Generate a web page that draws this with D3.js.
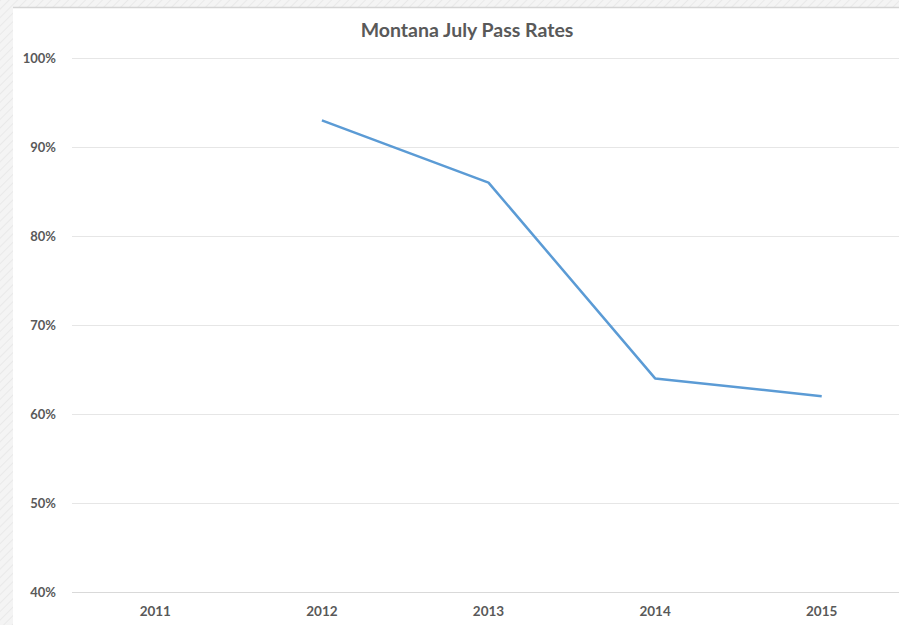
<!DOCTYPE html>
<html>
<head>
<meta charset="utf-8">
<script src="https://cdn.jsdelivr.net/npm/d3@7"></script>
<style>
  html, body { margin: 0; padding: 0; background: #f3f3f3; }
  svg { display: block; }
  text { font-family: Lato, "Open Sans", sans-serif; fill: #595959; }
</style>
</head>
<body>
<svg width="899" height="625"></svg>
<script>
var years = ["2011", "2012", "2013", "2014", "2015"];
var passRates = [null, 0.93, 0.86, 0.64, 0.62];
var yTicks = [0.4, 0.5, 0.6, 0.7, 0.8, 0.9, 1.0];
var title = "Montana July Pass Rates";

var svg = d3.select("svg"),
    W = +svg.attr("width"), H = +svg.attr("height");

// textured page background
var defs = svg.append("defs");
var pat = defs.append("pattern").attr("id", "tex")
    .attr("width", 6).attr("height", 6)
    .attr("patternUnits", "userSpaceOnUse")
    .attr("patternTransform", "rotate(45)");
pat.append("rect").attr("width", 6).attr("height", 6).attr("fill", "#f4f4f4");
pat.append("line").attr("x1", 0).attr("y1", 0).attr("x2", 0).attr("y2", 6)
    .attr("stroke", "#e9e9e9").attr("stroke-width", 2);
svg.append("rect").attr("width", W).attr("height", H).attr("fill", "url(#tex)");

// chart card
svg.append("rect").attr("x", 13).attr("y", 7).attr("width", W - 13).attr("height", H - 7)
    .attr("fill", "#ffffff");
svg.append("line").attr("x1", 13).attr("x2", W).attr("y1", 7.5).attr("y2", 7.5)
    .attr("stroke", "#d4d4d4").attr("stroke-width", 1.5);

var x = d3.scaleBand().domain(years).range([72, 905]);
var y = d3.scaleLinear().domain([0.4, 1.0]).range([592, 58]);

// gridlines
svg.append("g").selectAll("line").data(yTicks).enter().append("line")
    .attr("x1", 72).attr("x2", W)
    .attr("y1", function(d) { return Math.round(y(d)) + 0.5; })
    .attr("y2", function(d) { return Math.round(y(d)) + 0.5; })
    .attr("stroke", function(d) { return d === 0.4 ? "#d9d9d9" : "#e6e6e6"; })
    .attr("stroke-width", 1);

// y labels
var pct = d3.format(".0%");
svg.append("g").selectAll("text").data(yTicks).enter().append("text")
    .attr("x", 56).attr("y", function(d) { return y(d); })
    .attr("dy", "0.35em")
    .attr("text-anchor", "end")
    .style("font-size", "13px").style("font-weight", "bold")
    .text(function(d) { return pct(d); });

// x labels
svg.append("g").selectAll("text").data(years).enter().append("text")
    .attr("x", function(d) { return x(d) + x.bandwidth() / 2; })
    .attr("y", 616)
    .attr("text-anchor", "middle")
    .style("font-size", "13.5px").style("font-weight", "bold")
    .text(function(d) { return d; });

// title
svg.append("text").attr("x", 467).attr("y", 37)
    .attr("text-anchor", "middle")
    .style("font-size", "19.5px").style("font-weight", "bold")
    .text(title);

// line
var pts = years.map(function(yr, i) { return { year: yr, v: passRates[i] }; });
var line = d3.line()
    .defined(function(d) { return d.v != null; })
    .x(function(d) { return x(d.year) + x.bandwidth() / 2; })
    .y(function(d) { return y(d.v); });
svg.append("path").datum(pts)
    .attr("d", line)
    .attr("fill", "none")
    .attr("stroke", "#5b9bd5")
    .attr("stroke-width", 2.5)
    .attr("stroke-linejoin", "round");
</script>
</body>
</html>
